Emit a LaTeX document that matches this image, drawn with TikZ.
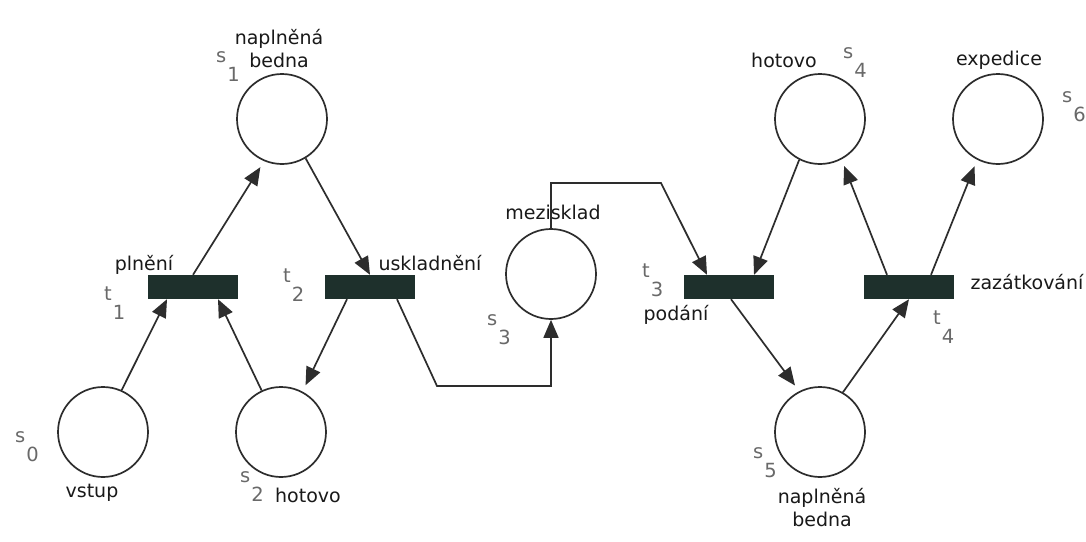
\documentclass[tikz,border=0pt]{standalone}
\usepackage{fontspec}
\setmainfont{DejaVu Sans}
\usetikzlibrary{arrows.meta,calc}
\definecolor{bar}{RGB}{30,48,44}
\definecolor{ln}{RGB}{45,45,45}
\definecolor{idx}{RGB}{105,105,105}
\newcommand{\ix}[2]{#1\kern1pt\raisebox{-19pt}{#2}}
\begin{document}
\begin{tikzpicture}[x=1pt,y=-1pt,
  place/.style={circle,draw=ln,line width=1.7pt,minimum size=90pt,inner sep=0pt},
  trans/.style={rectangle,fill=bar,minimum width=90pt,minimum height=24pt,inner sep=0pt},
  txt/.style={text=black!90,inner sep=0pt,align=center,font=\fontsize{19}{23}\selectfont},
  ixl/.style={text=idx,inner sep=0pt,anchor=base west,font=\fontsize{19.5}{23}\selectfont},
  arc/.style={draw=ln,line width=1.7pt,-{Triangle[length=18pt,width=15pt]}},
  gap/.style={shorten >=7pt}]
\useasboundingbox (0,0) rectangle (1086,541);
\fill[white] (0,0) rectangle (1086,541);
% places
\node[place] (s0) at (103,432) {};
\node[place] (s1) at (282,119) {};
\node[place] (s2) at (281,432) {};
\node[place] (s3) at (551,274) {};
\node[place] (s4) at (820,119) {};
\node[place] (s5) at (820,432) {};
\node[place] (s6) at (998,119) {};
% transitions
\node[trans] (t1) at (193,287) {};
\node[trans] (t2) at (370,287) {};
\node[trans] (t3) at (729,287) {};
\node[trans] (t4) at (909,287) {};
% name labels
\node[txt] (l1) at (279,49) {naplněná\\bedna};
\node[txt] (l0) at (92,493) {vstup};
\node[txt] (l2) at (308,495) {hotovo};
\node[txt] (lt1) at (144,265) {plnění};
\node[txt] (lt2) at (430,263) {uskladnění};
\node[txt] (l3) at (553,212) {mezisklad};
\node[txt] (lt3) at (676,315) {podání};
\node[txt] (lt4) at (1027,282) {zazátkování};
\node[txt] (l4) at (784,60) {hotovo};
\node[txt] (l6) at (999,60) {expedice};
\node[txt] (l5) at (822,508) {naplněná\\bedna};
% index labels
\node[ixl] (i0) at (15,442) {\ix{s}{0}};
\node[ixl] (i1) at (216,62) {\ix{s}{1}};
\node[ixl] (i2) at (240,482) {\ix{s}{2}};
\node[ixl] (i3) at (487,325) {\ix{s}{3}};
\node[ixl] (i4) at (843,58) {\ix{s}{4}};
\node[ixl] (i5) at (753,458) {\ix{s}{5}};
\node[ixl] (i6) at (1062,102) {\ix{s}{6}};
\node[ixl] (j1) at (104,300) {\ix{t}{1}};
\node[ixl] (j2) at (283,282) {\ix{t}{2}};
\node[ixl] (j3) at (642,277) {\ix{t}{3}};
\node[ixl] (j4) at (933,324) {\ix{t}{4}};
% connectors
\coordinate (c1) at (661,183);
\coordinate (c2) at (437,386);
\draw[arc] (s0.66) -- ($(t1.south)+(-26,0)$);
\draw[arc] (s2.115) -- ($(t1.south)+(25,0)$);
\draw[arc,gap] (t1.north) -- (s1.247);
\draw[arc] (s1.301) -- (t2.north);
\draw[arc,gap] ($(t2.south)+(-23,0)$) -- (s2.62);
\draw[arc] ($(t2.south)+(27,0)$) -- (c2) -| (s3.south);
\draw[arc] (s3.north) |- (c1) -- ($(t3.north)+(-22,0)$);
\draw[arc] (s4.243) -- ($(t3.north)+(25,0)$);
\draw[arc,gap] ($(t3.south)+(2,0)$) -- (s5.117);
\draw[arc] (s5.60) -- (t4.south);
\draw[arc,gap] ($(t4.north)+(-22,0)$) -- (s4.298);
\draw[arc,gap] ($(t4.north)+(22,0)$) -- (s6.243);
\end{tikzpicture}
\end{document}
